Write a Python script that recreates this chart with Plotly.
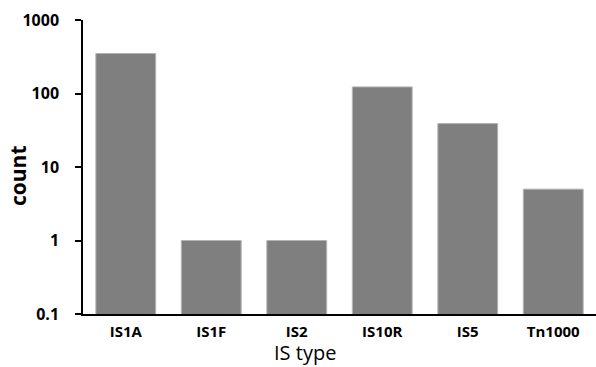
import plotly.graph_objects as go

categories = ["IS1A", "IS1F", "IS2", "IS10R", "IS5", "Tn1000"]
counts = [350, 1, 1, 123, 39, 5]
y_tickvals = [0.1, 1, 10, 100, 1000]
y_ticktext = ["0.1", "1", "10", "100", "1000"]

fig = go.Figure(go.Bar(
    x=categories, y=counts,
    marker=dict(color="#7f7f7f", line=dict(color="#b4b4b4", width=1)),
))

fig.update_layout(
    width=596, height=367,
    margin=dict(l=83, r=0, t=20, b=53, autoexpand=False),
    paper_bgcolor="white", plot_bgcolor="white",
    bargap=0.30,
    showlegend=False,
    font=dict(family="Open Sans", color="black"),
)
fig.update_xaxes(
    automargin=False,
    showline=True, linecolor="black", linewidth=1.5,
    ticks="", tickfont=dict(size=15, family="Open Sans", weight="bold"),
    ticklabelstandoff=3,
    title=None,
)
fig.update_yaxes(
    automargin=False,
    type="log", range=[-1, 3],
    tickvals=y_tickvals, ticktext=y_ticktext,
    showline=True, linecolor="black", linewidth=1.5,
    ticks="outside", ticklen=6, tickcolor="black", tickwidth=1.5,
    tickfont=dict(size=16, family="Open Sans", weight="bold"),
    showgrid=False, zeroline=False,
    ticklabelstandoff=13,
)
fig.add_annotation(text="IS type", xref="paper", yref="paper",
                   x=(305 - 83) / 513, y=-(352 - 314) / 294, yanchor="middle",
                   showarrow=False, borderpad=0,
                   font=dict(size=20, family="Open Sans"))
fig.add_annotation(text="<b>count</b>", xref="paper", yref="paper",
                   x=-(83 - 18) / 513, y=(314 - 176) / 294, textangle=-90,
                   xanchor="center", yanchor="middle",
                   showarrow=False, font=dict(size=21, family="Open Sans"))
fig.write_html("out.html",
               config={"displayModeBar": False},
               post_script="document.body.style.margin='0';document.body.style.overflow='hidden';")
